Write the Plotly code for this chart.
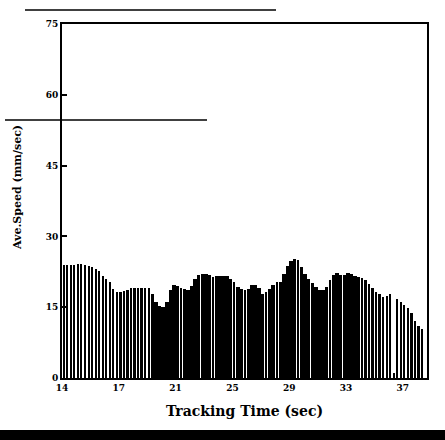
import plotly.graph_objects as go

# ---- data ----
start_time = 13.125
step = 0.25
speed = [
    23.9, 23.9, 24.0, 24.0, 24.1, 24.1, 24.0, 23.8, 23.5, 23.2,
    22.7, 21.7, 20.9, 20.3, 18.9, 18.3, 18.2, 18.4, 18.7, 19.0,
    19.1, 19.1, 19.1, 19.1, 19.0, 17.8, 16.2, 15.2, 15.0, 16.0,
    18.6, 19.7, 19.4, 19.0, 18.8, 18.6, 19.5, 21.0, 21.8, 22.1,
    22.0, 21.8, 21.4, 21.6, 21.6, 21.7, 21.6, 21.0, 20.3, 19.2,
    18.8, 18.7, 18.9, 19.6, 19.6, 19.1, 17.9, 18.2, 18.9, 19.8,
    20.3, 20.4, 22.0, 23.8, 24.8, 25.2, 25.0, 23.5, 22.0, 21.0,
    20.2, 19.2, 18.7, 18.7, 19.2, 20.7, 21.8, 22.2, 21.9, 21.9,
    22.2, 22.0, 21.6, 21.3, 21.2, 20.7, 19.9, 19.0, 18.3, 17.8,
    17.2, 17.3, 17.7, 1.0, 16.8, 16.1, 15.5, 14.9, 13.8, 12.1,
    11.0, 10.4,
]
x_tick_vals = [13, 17, 21, 25, 29, 33, 37]
x_tick_text = ["14", "17", "21", "25", "29", "33", "37"]
y_tick_vals = [0, 15, 30, 45, 60, 75]
y_tick_text = ["0", "15", "30", "45", "60", "75"]

times = [start_time + step * i for i in range(len(speed))]

# ---- style: bar widths giving the striped, scanned look ----
widths = []
for i, t in enumerate(times):
    if t < 16.7:
        widths.append(0.08)
    elif t < 19.2:
        widths.append(0.14)
    elif t < 34.6:
        widths.append(0.18 if i % 3 == 0 else 0.25)
    else:
        widths.append(0.12)

W, H = 445, 440
L, R, T, B = 62, 427, 24, 378


def px(xp):
    return (xp - L) / (R - L)


def py(yp):
    return (B - yp) / (B - T)


fig = go.Figure()
fig.add_trace(go.Bar(
    x=times, y=speed, width=widths,
    marker=dict(color="black", line=dict(width=0)),
    hoverinfo="x+y",
))

serif = "DejaVu Serif"
fig.update_layout(
    width=W, height=H,
    margin=dict(l=L, r=W - R, t=T, b=H - B, pad=0),
    paper_bgcolor="white", plot_bgcolor="white",
    showlegend=False,
    font=dict(family=serif, color="black"),
    bargap=0,
    xaxis=dict(
        range=[13, 38.7], tickvals=x_tick_vals, ticktext=x_tick_text,
        ticks="", showgrid=False, zeroline=False,
        showline=True, linecolor="black", linewidth=2, mirror=True,
        tickfont=dict(family=serif, size=9, color="black", weight="bold"),
        title=dict(text="<b>Tracking Time (sec)</b>",
                   font=dict(family=serif, size=14, color="black"),
                   standoff=14),
    ),
    yaxis=dict(
        range=[0, 75], tickvals=y_tick_vals, ticktext=y_tick_text,
        ticks="inside", ticklen=5, tickwidth=1.5, tickcolor="black",
        showgrid=False, zeroline=False,
        showline=True, linecolor="black", linewidth=2, mirror=True,
        tickfont=dict(family=serif, size=9, color="black", weight="bold"),
    ),
    annotations=[
        dict(text="<b>Ave.Speed (mm/sec)</b>", xref="paper", yref="paper",
             x=px(18), y=py(188), textangle=-90, showarrow=False,
             xanchor="center", yanchor="middle",
             font=dict(family=serif, size=11, color="black")),
    ],
    shapes=[
        dict(type="line", xref="paper", yref="paper",
             x0=px(25), x1=px(276), y0=py(10), y1=py(10),
             line=dict(color="black", width=1.5)),
        dict(type="line", xref="paper", yref="paper",
             x0=px(5), x1=px(207), y0=py(120), y1=py(120),
             line=dict(color="black", width=1.5)),
        dict(type="rect", xref="paper", yref="paper",
             x0=px(0), x1=px(445), y0=py(430), y1=py(441),
             fillcolor="black", line=dict(width=0)),
    ],
)

fig.write_html("out.html")
